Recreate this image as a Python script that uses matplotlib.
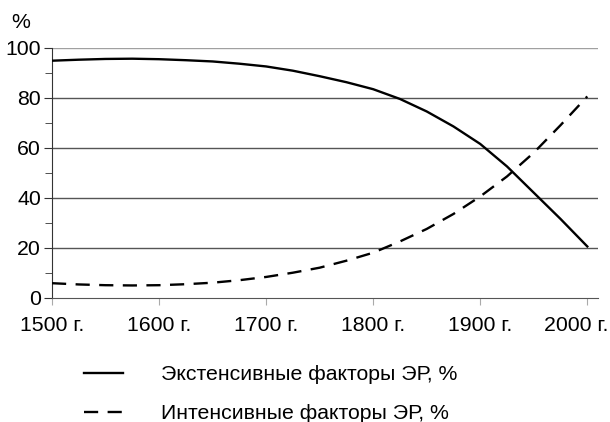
import matplotlib
matplotlib.use('Agg')
import matplotlib.pyplot as plt
from matplotlib.lines import Line2D
from matplotlib.transforms import ScaledTranslation

plt.rcParams['font.family'] = ['Liberation Sans', 'DejaVu Sans']

# Годы и значения
years = [1500, 1525, 1550, 1575, 1600, 1625, 1650, 1675, 1700, 1725, 1750,
         1775, 1800, 1825, 1850, 1875, 1900, 1925, 1950, 1975, 2000]
extensive = [94.8, 95.2, 95.5, 95.6, 95.4, 95.0, 94.5, 93.6, 92.5, 90.8, 88.6,
             86.2, 83.4, 79.5, 74.5, 68.5, 61.5, 52.5, 42.0, 31.5, 20.5]
intensive = [5.8, 5.3, 5.0, 4.9, 5.0, 5.4, 6.0, 7.0, 8.3, 10.0, 12.0,
             14.8, 18.0, 22.5, 27.5, 33.5, 40.5, 48.5, 58.0, 69.0, 80.5]

x_ticks = [1500, 1600, 1700, 1800, 1900, 2000]
x_labels = ['1500 г.', '1600 г.', '1700 г.', '1800 г.', '1900 г.', '2000 г.']
y_ticks = [0, 20, 40, 60, 80, 100]
labels = ['Экстенсивные факторы ЭР, %', 'Интенсивные факторы ЭР, %']

fs = 15.3

fig = plt.figure(figsize=(6.10, 4.22), dpi=100)
ax = fig.add_axes([52 / 610, 1 - 297.7 / 422, (598 - 52) / 610, 250 / 422])

# сетка
for v in y_ticks[1:]:
    ax.axhline(v, color='#a0a0a0' if v == 100 else '#555555', lw=1.0, zorder=1)

ax.plot(years, extensive, color='black', lw=1.7, zorder=3)
ax.plot(years, intensive, color='black', lw=1.7, dashes=[6, 4], zorder=3)

ax.set_xlim(1500, 2010)
ax.set_ylim(0, 100)
ax.set_xticks(x_ticks)
ax.set_xticklabels(x_labels, fontsize=fs)
ax.set_yticks(y_ticks)
ax.set_yticklabels([str(v) for v in y_ticks], fontsize=fs)
ax.set_yticks(range(10, 100, 20), minor=True)

ax.spines['top'].set_visible(False)
ax.spines['right'].set_visible(False)
ax.spines['left'].set_color('#333333')
ax.spines['bottom'].set_color('#555555')
ax.tick_params(axis='y', which='major', length=6, color='#333333', pad=2)
ax.tick_params(axis='y', which='minor', length=5, color='#333333')
ax.tick_params(axis='x', length=5, color='#aaaaaa', pad=8)

# последняя подпись упирается в край — сдвигаем влево
last = ax.get_xticklabels()[-1]
last.set_horizontalalignment('right')
last.set_transform(last.get_transform() + ScaledTranslation(21 / 100, 0, fig.dpi_scale_trans))

fig.text(21 / 610, 1 - 22 / 422, '%', fontsize=fs, ha='center', va='center')

handles = [Line2D([], [], color='black', lw=1.7),
           Line2D([], [], color='black', lw=1.7, dashes=[6, 4])]
fig.legend(handles, labels, loc='upper left', bbox_to_anchor=(84 / 610, 1 - 365 / 422),
           frameon=False, fontsize=fs, handlelength=1.83, handletextpad=1.79,
           labelspacing=0.95, borderpad=0, borderaxespad=0)

fig.savefig('out.png', dpi=100)
